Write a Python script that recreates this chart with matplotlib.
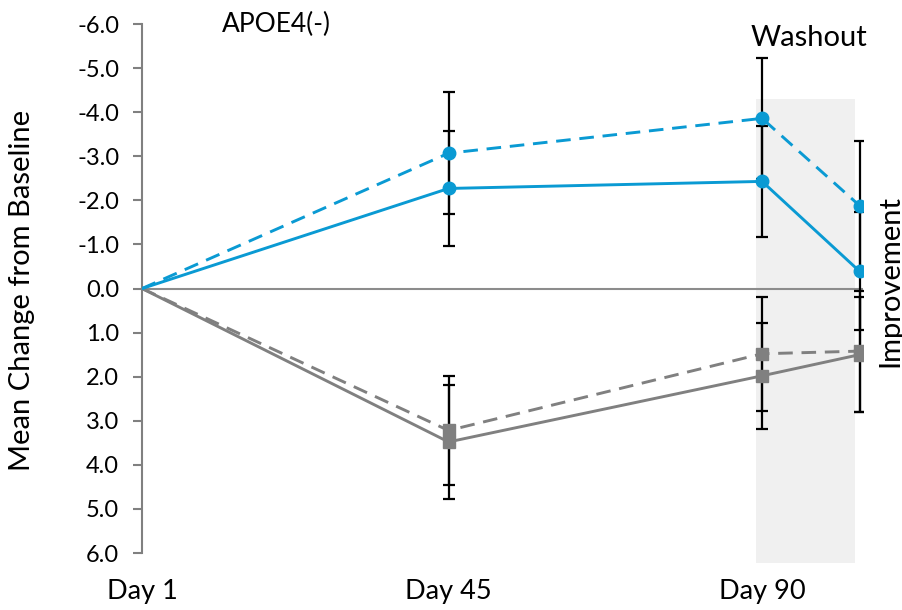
import matplotlib
matplotlib.use('Agg')
import matplotlib.pyplot as plt
from matplotlib.patches import Rectangle

plt.rcParams['font.family'] = ['Lato', 'DejaVu Sans']

# study days of each visit
days = [1, 45, 90, 104]
tick_days = [1, 45, 90]
tick_labels = ['Day 1', 'Day 45', 'Day 90']

# mean change from baseline (negative = improvement, axis inverted)
blue_dashed = [0.0, -3.07, -3.86, -1.88]
blue_dashed_err = [0.0, 1.38, 1.37, 1.47]
blue_solid = [0.0, -2.27, -2.43, -0.39]
blue_solid_err = [0.0, 1.31, 1.25, 1.34]
gray_dashed = [0.0, 3.22, 1.48, 1.42]
gray_dashed_err = [0.0, 1.23, 1.29, 1.37]
gray_solid = [0.0, 3.48, 1.98, 1.50]
gray_solid_err = [0.0, 1.29, 1.20, 1.30]

washout_start, washout_end = 89.2, 103.3
washout_top, washout_bottom = -4.3, 6.23

blue = '#0a9ad3'
gray = '#808080'

fig = plt.figure(figsize=(9.03, 6.10), dpi=100)
ax = fig.add_axes([0.1573, 0.0934, 0.7985, 0.8672])

ax.add_patch(Rectangle((washout_start, washout_top), washout_end - washout_start,
                       washout_bottom - washout_top, facecolor='#f0f0f0',
                       edgecolor='none', clip_on=False, zorder=0))
ax.axhline(0, color='#8c8c8c', lw=1.5, zorder=1)

def series(vals, errs, color, marker, ls):
    # error bars only where there is an error
    ex = [d for d, e in zip(days, errs) if e > 0]
    ey = [v for v, e in zip(vals, errs) if e > 0]
    ee = [e for e in errs if e > 0]
    ax.errorbar(ex, ey, yerr=ee, fmt='none', ecolor='black', elinewidth=1.6,
                capsize=4.3, capthick=1.6, zorder=3)
    line, = ax.plot(days, vals, color=color, lw=2.1, ls=ls, zorder=4)
    if ls == '--':
        line.set_dashes((5, 3))
    ax.plot(days[1:], vals[1:], ls='none', marker=marker, color=color,
            markersize=9 if marker == 'o' else 8.5, zorder=5)

series(gray_solid, gray_solid_err, gray, 's', '-')
series(gray_dashed, gray_dashed_err, gray, 's', '--')
series(blue_solid, blue_solid_err, blue, 'o', '-')
series(blue_dashed, blue_dashed_err, blue, 'o', '--')

ax.set_xlim(1, 104.5)
ax.set_ylim(6, -6)
ax.set_yticks(range(-6, 7))
ax.set_yticklabels([f'{v:.1f}' for v in range(-6, 7)],
                   family=['Liberation Sans Narrow', 'Lato', 'DejaVu Sans'], fontsize=17)
ax.set_xticks(tick_days)
ax.set_xticklabels(tick_labels, fontsize=19.5)
ax.tick_params(axis='x', length=0, pad=19)
ax.tick_params(axis='y', length=6.5, width=1.5, color=gray, pad=10)

for s in ['top', 'right', 'bottom']:
    ax.spines[s].set_visible(False)
ax.spines['left'].set_color(gray)
ax.spines['left'].set_linewidth(1.5)

ax.set_ylabel('Mean Change from Baseline', fontsize=21)
ax.yaxis.set_label_coords((35 - 142) / 721, (553 - 290) / 529)

fig.text(276 / 903, 1 - 24 / 610, 'APOE4(-)', fontsize=19, ha='center', va='center')
fig.text(809 / 903, 1 - 38 / 610, 'Washout', fontsize=21, ha='center', va='center')
fig.text(877 / 903, 1 - 281 / 610, 'Improvement', fontsize=21, ha='left',
         va='center', rotation=90)

fig.savefig('out.png', dpi=100)
